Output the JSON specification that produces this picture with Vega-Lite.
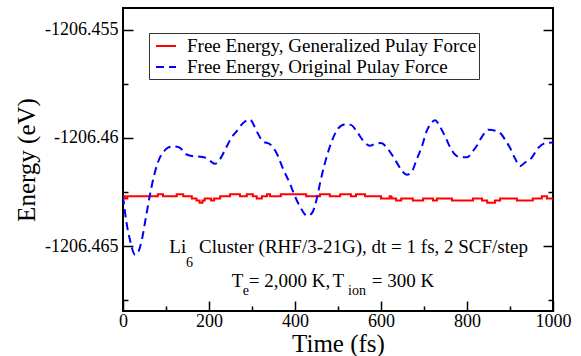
{
  "$schema": "https://vega.github.io/schema/vega-lite/v6.json",
  "width": 430,
  "height": 303,
  "autosize": {"type": "none"},
  "padding": {"left": 123, "top": 8, "right": 28, "bottom": 45},
  "background": "white",
  "config": {
    "font": "Times New Roman, Liberation Serif, DejaVu Serif, serif",
    "view": {"stroke": "black", "strokeWidth": 2},
    "axis": {
      "grid": false,
      "domain": false,
      "labelFont": "Times New Roman, Liberation Serif, DejaVu Serif, serif",
      "labelFontSize": 18,
      "labelColor": "black",
      "tickColor": "black",
      "tickWidth": 1.5,
      "titleFont": "Times New Roman, Liberation Serif, DejaVu Serif, serif",
      "titleFontSize": 25,
      "titleFontWeight": "normal",
      "titleColor": "black",
      "labelFlush": false,
      "labelOverlap": false
    },
    "legend": {
      "orient": "none",
      "legendX": 26,
      "legendY": 25,
      "padding": 2,
      "rowPadding": 0,
      "symbolOffset": 4,
      "labelFont": "Times New Roman, Liberation Serif, DejaVu Serif, serif",
      "labelFontSize": 19,
      "labelColor": "black",
      "labelLimit": 0,
      "labelOffset": 10,
      "symbolType": "stroke",
      "symbolSize": 400,
      "symbolStrokeWidth": 2,
      "strokeColor": "#333333",
      "fillColor": "white",
      "title": null
    }
  },
  "datasets": {
    "energy": [
      {"t": 0, "E": -1206.4627, "series": "Free Energy, Generalized Pulay Force"},
      {"t": 5, "E": -1206.4628, "series": "Free Energy, Generalized Pulay Force"},
      {"t": 10, "E": -1206.4627, "series": "Free Energy, Generalized Pulay Force"},
      {"t": 81, "E": -1206.4626, "series": "Free Energy, Generalized Pulay Force"},
      {"t": 93, "E": -1206.4627, "series": "Free Energy, Generalized Pulay Force"},
      {"t": 125, "E": -1206.4626, "series": "Free Energy, Generalized Pulay Force"},
      {"t": 140, "E": -1206.4627, "series": "Free Energy, Generalized Pulay Force"},
      {"t": 160, "E": -1206.4628, "series": "Free Energy, Generalized Pulay Force"},
      {"t": 171, "E": -1206.4629, "series": "Free Energy, Generalized Pulay Force"},
      {"t": 178, "E": -1206.4630, "series": "Free Energy, Generalized Pulay Force"},
      {"t": 185, "E": -1206.4629, "series": "Free Energy, Generalized Pulay Force"},
      {"t": 190, "E": -1206.4628, "series": "Free Energy, Generalized Pulay Force"},
      {"t": 205, "E": -1206.4629, "series": "Free Energy, Generalized Pulay Force"},
      {"t": 212, "E": -1206.4628, "series": "Free Energy, Generalized Pulay Force"},
      {"t": 226, "E": -1206.4627, "series": "Free Energy, Generalized Pulay Force"},
      {"t": 249, "E": -1206.4626, "series": "Free Energy, Generalized Pulay Force"},
      {"t": 272, "E": -1206.4627, "series": "Free Energy, Generalized Pulay Force"},
      {"t": 288, "E": -1206.4626, "series": "Free Energy, Generalized Pulay Force"},
      {"t": 302, "E": -1206.4627, "series": "Free Energy, Generalized Pulay Force"},
      {"t": 311, "E": -1206.4628, "series": "Free Energy, Generalized Pulay Force"},
      {"t": 323, "E": -1206.4627, "series": "Free Energy, Generalized Pulay Force"},
      {"t": 335, "E": -1206.4626, "series": "Free Energy, Generalized Pulay Force"},
      {"t": 342, "E": -1206.4627, "series": "Free Energy, Generalized Pulay Force"},
      {"t": 367, "E": -1206.4626, "series": "Free Energy, Generalized Pulay Force"},
      {"t": 426, "E": -1206.4627, "series": "Free Energy, Generalized Pulay Force"},
      {"t": 458, "E": -1206.4626, "series": "Free Energy, Generalized Pulay Force"},
      {"t": 481, "E": -1206.4627, "series": "Free Energy, Generalized Pulay Force"},
      {"t": 505, "E": -1206.4626, "series": "Free Energy, Generalized Pulay Force"},
      {"t": 530, "E": -1206.4627, "series": "Free Energy, Generalized Pulay Force"},
      {"t": 542, "E": -1206.4626, "series": "Free Energy, Generalized Pulay Force"},
      {"t": 563, "E": -1206.4627, "series": "Free Energy, Generalized Pulay Force"},
      {"t": 600, "E": -1206.4628, "series": "Free Energy, Generalized Pulay Force"},
      {"t": 620, "E": -1206.4627, "series": "Free Energy, Generalized Pulay Force"},
      {"t": 625, "E": -1206.4628, "series": "Free Energy, Generalized Pulay Force"},
      {"t": 635, "E": -1206.4629, "series": "Free Energy, Generalized Pulay Force"},
      {"t": 647, "E": -1206.4628, "series": "Free Energy, Generalized Pulay Force"},
      {"t": 674, "E": -1206.4629, "series": "Free Energy, Generalized Pulay Force"},
      {"t": 698, "E": -1206.4628, "series": "Free Energy, Generalized Pulay Force"},
      {"t": 721, "E": -1206.4629, "series": "Free Energy, Generalized Pulay Force"},
      {"t": 730, "E": -1206.4628, "series": "Free Energy, Generalized Pulay Force"},
      {"t": 765, "E": -1206.4629, "series": "Free Energy, Generalized Pulay Force"},
      {"t": 814, "E": -1206.4628, "series": "Free Energy, Generalized Pulay Force"},
      {"t": 835, "E": -1206.4629, "series": "Free Energy, Generalized Pulay Force"},
      {"t": 847, "E": -1206.4630, "series": "Free Energy, Generalized Pulay Force"},
      {"t": 865, "E": -1206.4629, "series": "Free Energy, Generalized Pulay Force"},
      {"t": 877, "E": -1206.4628, "series": "Free Energy, Generalized Pulay Force"},
      {"t": 916, "E": -1206.4629, "series": "Free Energy, Generalized Pulay Force"},
      {"t": 953, "E": -1206.4628, "series": "Free Energy, Generalized Pulay Force"},
      {"t": 974, "E": -1206.4627, "series": "Free Energy, Generalized Pulay Force"},
      {"t": 986, "E": -1206.4628, "series": "Free Energy, Generalized Pulay Force"},
      {"t": 1000, "E": -1206.4628, "series": "Free Energy, Generalized Pulay Force"},
      {"t": 0, "E": -1206.4627, "series": "Free Energy, Original Pulay Force"},
      {"t": 8, "E": -1206.4639, "series": "Free Energy, Original Pulay Force"},
      {"t": 16, "E": -1206.4647, "series": "Free Energy, Original Pulay Force"},
      {"t": 28, "E": -1206.4654, "series": "Free Energy, Original Pulay Force"},
      {"t": 36, "E": -1206.46525, "series": "Free Energy, Original Pulay Force"},
      {"t": 44, "E": -1206.4647, "series": "Free Energy, Original Pulay Force"},
      {"t": 53, "E": -1206.4637, "series": "Free Energy, Original Pulay Force"},
      {"t": 63, "E": -1206.4626, "series": "Free Energy, Original Pulay Force"},
      {"t": 74, "E": -1206.4616, "series": "Free Energy, Original Pulay Force"},
      {"t": 86, "E": -1206.4609, "series": "Free Energy, Original Pulay Force"},
      {"t": 96, "E": -1206.4606, "series": "Free Energy, Original Pulay Force"},
      {"t": 105, "E": -1206.46045, "series": "Free Energy, Original Pulay Force"},
      {"t": 117, "E": -1206.4604, "series": "Free Energy, Original Pulay Force"},
      {"t": 130, "E": -1206.46043, "series": "Free Energy, Original Pulay Force"},
      {"t": 148, "E": -1206.46077, "series": "Free Energy, Original Pulay Force"},
      {"t": 165, "E": -1206.46085, "series": "Free Energy, Original Pulay Force"},
      {"t": 180, "E": -1206.46087, "series": "Free Energy, Original Pulay Force"},
      {"t": 195, "E": -1206.46094, "series": "Free Energy, Original Pulay Force"},
      {"t": 205, "E": -1206.4611, "series": "Free Energy, Original Pulay Force"},
      {"t": 214, "E": -1206.4612, "series": "Free Energy, Original Pulay Force"},
      {"t": 225, "E": -1206.4610, "series": "Free Energy, Original Pulay Force"},
      {"t": 240, "E": -1206.46045, "series": "Free Energy, Original Pulay Force"},
      {"t": 252, "E": -1206.4600, "series": "Free Energy, Original Pulay Force"},
      {"t": 264, "E": -1206.4597, "series": "Free Energy, Original Pulay Force"},
      {"t": 280, "E": -1206.4593, "series": "Free Energy, Original Pulay Force"},
      {"t": 295, "E": -1206.45915, "series": "Free Energy, Original Pulay Force"},
      {"t": 311, "E": -1206.4597, "series": "Free Energy, Original Pulay Force"},
      {"t": 325, "E": -1206.46016, "series": "Free Energy, Original Pulay Force"},
      {"t": 342, "E": -1206.4603, "series": "Free Energy, Original Pulay Force"},
      {"t": 357, "E": -1206.4607, "series": "Free Energy, Original Pulay Force"},
      {"t": 373, "E": -1206.46147, "series": "Free Energy, Original Pulay Force"},
      {"t": 388, "E": -1206.4621, "series": "Free Energy, Original Pulay Force"},
      {"t": 400, "E": -1206.4627, "series": "Free Energy, Original Pulay Force"},
      {"t": 415, "E": -1206.4633, "series": "Free Energy, Original Pulay Force"},
      {"t": 428, "E": -1206.4636, "series": "Free Energy, Original Pulay Force"},
      {"t": 440, "E": -1206.46346, "series": "Free Energy, Original Pulay Force"},
      {"t": 450, "E": -1206.46286, "series": "Free Energy, Original Pulay Force"},
      {"t": 460, "E": -1206.46193, "series": "Free Energy, Original Pulay Force"},
      {"t": 474, "E": -1206.46085, "series": "Free Energy, Original Pulay Force"},
      {"t": 487, "E": -1206.46008, "series": "Free Energy, Original Pulay Force"},
      {"t": 500, "E": -1206.45957, "series": "Free Energy, Original Pulay Force"},
      {"t": 516, "E": -1206.45938, "series": "Free Energy, Original Pulay Force"},
      {"t": 530, "E": -1206.4594, "series": "Free Energy, Original Pulay Force"},
      {"t": 545, "E": -1206.45975, "series": "Free Energy, Original Pulay Force"},
      {"t": 560, "E": -1206.46017, "series": "Free Energy, Original Pulay Force"},
      {"t": 574, "E": -1206.46036, "series": "Free Energy, Original Pulay Force"},
      {"t": 588, "E": -1206.46026, "series": "Free Energy, Original Pulay Force"},
      {"t": 600, "E": -1206.46024, "series": "Free Energy, Original Pulay Force"},
      {"t": 617, "E": -1206.46054, "series": "Free Energy, Original Pulay Force"},
      {"t": 636, "E": -1206.46112, "series": "Free Energy, Original Pulay Force"},
      {"t": 650, "E": -1206.46156, "series": "Free Energy, Original Pulay Force"},
      {"t": 660, "E": -1206.4617, "series": "Free Energy, Original Pulay Force"},
      {"t": 670, "E": -1206.46161, "series": "Free Energy, Original Pulay Force"},
      {"t": 683, "E": -1206.461, "series": "Free Energy, Original Pulay Force"},
      {"t": 695, "E": -1206.4604, "series": "Free Energy, Original Pulay Force"},
      {"t": 706, "E": -1206.4597, "series": "Free Energy, Original Pulay Force"},
      {"t": 716, "E": -1206.45934, "series": "Free Energy, Original Pulay Force"},
      {"t": 726, "E": -1206.45919, "series": "Free Energy, Original Pulay Force"},
      {"t": 737, "E": -1206.45948, "series": "Free Energy, Original Pulay Force"},
      {"t": 749, "E": -1206.45993, "series": "Free Energy, Original Pulay Force"},
      {"t": 760, "E": -1206.4604, "series": "Free Energy, Original Pulay Force"},
      {"t": 772, "E": -1206.46077, "series": "Free Energy, Original Pulay Force"},
      {"t": 785, "E": -1206.4609, "series": "Free Energy, Original Pulay Force"},
      {"t": 800, "E": -1206.4609, "series": "Free Energy, Original Pulay Force"},
      {"t": 811, "E": -1206.46068, "series": "Free Energy, Original Pulay Force"},
      {"t": 822, "E": -1206.46039, "series": "Free Energy, Original Pulay Force"},
      {"t": 835, "E": -1206.45994, "series": "Free Energy, Original Pulay Force"},
      {"t": 850, "E": -1206.45962, "series": "Free Energy, Original Pulay Force"},
      {"t": 864, "E": -1206.45966, "series": "Free Energy, Original Pulay Force"},
      {"t": 877, "E": -1206.45977, "series": "Free Energy, Original Pulay Force"},
      {"t": 890, "E": -1206.46013, "series": "Free Energy, Original Pulay Force"},
      {"t": 900, "E": -1206.46046, "series": "Free Energy, Original Pulay Force"},
      {"t": 912, "E": -1206.46096, "series": "Free Energy, Original Pulay Force"},
      {"t": 923, "E": -1206.46131, "series": "Free Energy, Original Pulay Force"},
      {"t": 935, "E": -1206.46114, "series": "Free Energy, Original Pulay Force"},
      {"t": 947, "E": -1206.461, "series": "Free Energy, Original Pulay Force"},
      {"t": 966, "E": -1206.46046, "series": "Free Energy, Original Pulay Force"},
      {"t": 985, "E": -1206.46023, "series": "Free Energy, Original Pulay Force"},
      {"t": 1000, "E": -1206.46022, "series": "Free Energy, Original Pulay Force"}
    ],
    "notes": [
      {"t": 107.7, "E": -1206.46531, "label": "Li", "kind": "main"},
      {"t": 146.5, "E": -1206.46596, "label": "6", "kind": "sub"},
      {"t": 176.7, "E": -1206.46531, "label": "Cluster (RHF/3-21G), dt = 1 fs, 2 SCF/step", "kind": "main"},
      {"t": 252.8, "E": -1206.46688, "label": "T", "kind": "main"},
      {"t": 278.4, "E": -1206.46725, "label": "e", "kind": "sub"},
      {"t": 292.5, "E": -1206.46688, "label": "= 2,000 K,", "kind": "main"},
      {"t": 487, "E": -1206.46688, "label": "T", "kind": "main"},
      {"t": 523.5, "E": -1206.46725, "label": "ion", "kind": "sub"},
      {"t": 578.4, "E": -1206.46688, "label": "= 300 K", "kind": "main"}
    ]
  },
  "layer": [
    {
      "data": {"name": "energy"},
      "transform": [{"filter": "datum.series === 'Free Energy, Generalized Pulay Force'"}],
      "mark": {"type": "line", "interpolate": "step-after", "strokeWidth": 2, "clip": true},
      "encoding": {
        "x": {
          "field": "t", "type": "quantitative",
          "scale": {"domain": [0, 1000], "nice": false, "zero": false},
          "axis": {
            "values": [0, 100, 200, 300, 400, 500, 600, 700, 800, 900, 1000],
            "tickSize": {"condition": {"test": "datum.value % 200 == 0", "value": -10}, "value": -5},
            "labelExpr": "datum.value % 200 == 0 ? '' + datum.value : ''",
            "labelPadding": 11,
            "title": "Time (fs)",
            "titleY": 40,
            "titleBaseline": "alphabetic"
          }
        },
        "y": {
          "field": "E", "type": "quantitative",
          "scale": {"domain": [-1206.468, -1206.454], "nice": false, "zero": false},
          "axis": {
            "orient": "left",
            "values": [-1206.4675, -1206.465, -1206.4625, -1206.46, -1206.4575, -1206.455],
            "tickSize": {"condition": {"test": "round(datum.value*2000) % 10 == 0", "value": -10}, "value": -5},
            "labelExpr": "round(datum.value*2000) % 10 == 0 ? '' + datum.value : ''",
            "labelPadding": 15,
            "title": "Energy (eV)",
            "titleX": -89,
            "titleY": 151.5,
            "titleAngle": -90,
            "titleAlign": "center",
            "titleBaseline": "alphabetic"
          }
        },
        "color": {
          "field": "series", "type": "nominal",
          "scale": {"domain": ["Free Energy, Generalized Pulay Force", "Free Energy, Original Pulay Force"], "range": ["#ff0000", "#0000ff"]}
        },
        "strokeDash": {
          "field": "series", "type": "nominal",
          "scale": {"domain": ["Free Energy, Generalized Pulay Force", "Free Energy, Original Pulay Force"], "range": [[1, 0], [8, 5]]}
        }
      }
    },
    {
      "data": {"name": "energy"},
      "transform": [{"filter": "datum.series === 'Free Energy, Original Pulay Force'"}],
      "mark": {"type": "line", "interpolate": "monotone", "strokeWidth": 2, "clip": true},
      "encoding": {
        "x": {"field": "t", "type": "quantitative", "scale": {"domain": [0, 1000], "nice": false, "zero": false}},
        "y": {"field": "E", "type": "quantitative", "scale": {"domain": [-1206.468, -1206.454], "nice": false, "zero": false}, "axis": null},
        "color": {
          "field": "series", "type": "nominal",
          "scale": {"domain": ["Free Energy, Generalized Pulay Force", "Free Energy, Original Pulay Force"], "range": ["#ff0000", "#0000ff"]}
        },
        "strokeDash": {
          "field": "series", "type": "nominal",
          "scale": {"domain": ["Free Energy, Generalized Pulay Force", "Free Energy, Original Pulay Force"], "range": [[1, 0], [8, 5]]}
        }
      }
    },
    {
      "data": {"name": "notes"},
      "transform": [{"filter": "datum.kind === 'main'"}],
      "mark": {"type": "text", "align": "left", "baseline": "alphabetic", "fontSize": 19, "font": "Times New Roman, Liberation Serif, DejaVu Serif, serif", "color": "black"},
      "encoding": {
        "x": {"field": "t", "type": "quantitative", "scale": {"domain": [0, 1000], "nice": false, "zero": false}},
        "y": {"field": "E", "type": "quantitative", "scale": {"domain": [-1206.468, -1206.454], "nice": false, "zero": false}, "axis": null},
        "text": {"field": "label"}
      }
    },
    {
      "data": {"name": "notes"},
      "transform": [{"filter": "datum.kind === 'sub'"}],
      "mark": {"type": "text", "align": "left", "baseline": "alphabetic", "fontSize": 14, "font": "Times New Roman, Liberation Serif, DejaVu Serif, serif", "color": "black"},
      "encoding": {
        "x": {"field": "t", "type": "quantitative", "scale": {"domain": [0, 1000], "nice": false, "zero": false}},
        "y": {
          "field": "E", "type": "quantitative",
          "scale": {"domain": [-1206.468, -1206.454], "nice": false, "zero": false},
          "axis": {
            "orient": "right",
            "values": [-1206.4675, -1206.465, -1206.4625, -1206.46, -1206.4575, -1206.455],
            "tickSize": {"condition": {"test": "round(datum.value*2000) % 10 == 0", "value": -10}, "value": -5},
            "labels": false,
            "title": null
          }
        },
        "text": {"field": "label"}
      }
    }
  ],
  "resolve": {"axis": {"y": "independent"}}
}
